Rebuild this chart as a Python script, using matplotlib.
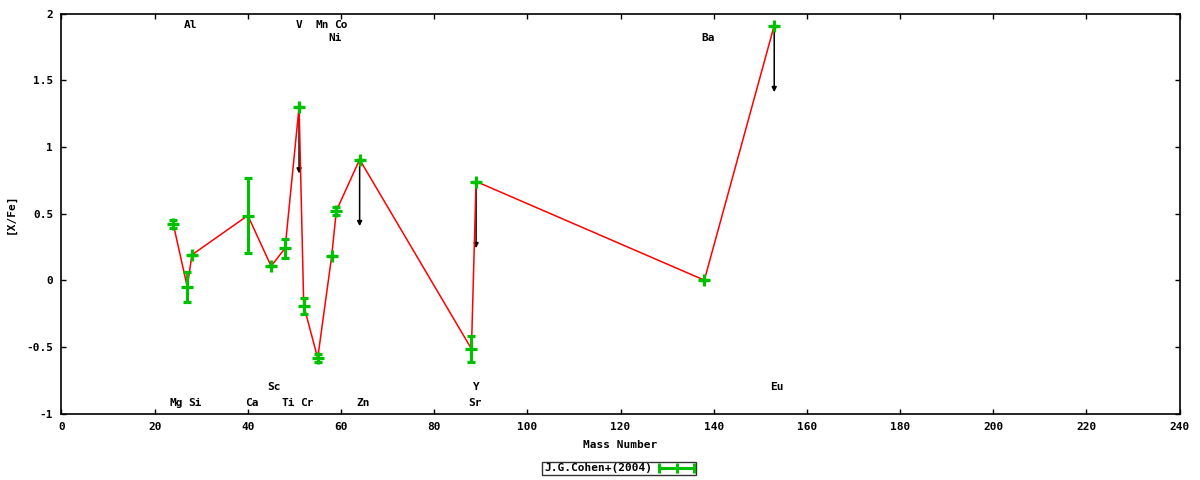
import matplotlib
matplotlib.use("Agg")
import matplotlib.pyplot as plt
from matplotlib.lines import Line2D
from matplotlib.legend_handler import HandlerBase

# ---- donnees ----
elements = ["Mg", "Al", "Si", "Ca", "Sc", "Ti", "V", "Cr", "Mn", "Ni", "Co", "Zn", "Sr", "Y", "Ba", "Eu"]
mass = [24, 27, 28, 40, 45, 48, 51, 52, 55, 58, 59, 64, 88, 89, 138, 153]
xfe = [0.42, -0.05, 0.19, 0.485, 0.105, 0.24, 1.30, -0.19, -0.585, 0.18, 0.52, 0.905, -0.515, 0.74, 0.0, 1.91]
err = [0.03, 0.11, 0.0, 0.28, 0.0, 0.07, 0.0, 0.06, 0.03, 0.0, 0.03, 0.0, 0.095, 0.0, 0.0, 0.0]
upper = ["V", "Zn", "Y", "Eu"]   # limites superieures (fleches)

# etiquettes des elements: (texte, x, y)
labels = [("Al", 27.6, 1.915), ("V", 50.9, 1.915), ("Mn", 55.9, 1.915), ("Co", 59.9, 1.915),
          ("Ni", 58.8, 1.817), ("Ba", 138.8, 1.817),
          ("Sc", 45.6, -0.80), ("Y", 89.0, -0.80), ("Eu", 153.6, -0.80),
          ("Mg", 24.6, -0.92), ("Si", 28.7, -0.92), ("Ca", 40.9, -0.92), ("Ti", 48.6, -0.92),
          ("Cr", 52.7, -0.92), ("Zn", 64.7, -0.92), ("Sr", 88.8, -0.92)]

green = "#00c000"
plt.rcParams["font.family"] = "DejaVu Sans Mono"
plt.rcParams["font.weight"] = "bold"
plt.rcParams["font.size"] = 8
plt.rcParams["axes.unicode_minus"] = False


class HandlerErrBar(HandlerBase):
    # echantillon de legende facon gnuplot : |--+--|
    def create_artists(self, legend, orig_handle, xdescent, ydescent, width, height, fontsize, trans):
        y = height / 2 - ydescent
        x0, x1 = -xdescent, -xdescent + width
        ln = Line2D([x0, x1], [y, y], color=green, lw=2.2, transform=trans)
        caps = Line2D([x0, x1], [y, y], color=green, lw=0, marker="|", ms=7, mew=2.2, transform=trans)
        mid = Line2D([(x0 + x1) / 2], [y], color=green, lw=0, marker="+", ms=7, mew=2.2, transform=trans)
        return [ln, caps, mid]


fig = plt.figure(figsize=(12, 4.8), dpi=100)
ax = fig.add_axes([61.5 / 1200, 1 - 413.5 / 480, 1118 / 1200, 400 / 480])

ax.plot(mass, xfe, "-", color="red", lw=1.1, zorder=2)
eb = ax.errorbar(mass, xfe, yerr=err, fmt="+", color=green, ms=8, mew=2.3,
                 elinewidth=2.2, capsize=2.6, capthick=2.2, zorder=3)

for el, m, v in zip(elements, mass, xfe):
    if el in upper:
        ax.annotate("", xy=(m, v - 0.5), xytext=(m, v),
                    arrowprops=dict(arrowstyle="-|>", color="black", lw=1.1,
                                    mutation_scale=7, shrinkA=0, shrinkB=0), zorder=1)

for txt, lx, ly in labels:
    ax.text(lx, ly, txt, ha="center", va="center", fontsize=8, fontweight="bold")

ax.set_xlim(0, 240)
ax.set_ylim(-1, 2)
ax.set_xticks(range(0, 241, 20))
ax.set_yticks([-1, -0.5, 0, 0.5, 1, 1.5, 2])
ax.set_yticklabels(["-1", "-0.5", "0", "0.5", "1", "1.5", "2"])
ax.tick_params(direction="in", length=3.5, width=1, top=True, right=True, labelsize=8, pad=6)
for s in ax.spines.values():
    s.set_linewidth(1.2)
ax.set_xlabel("Mass Number", fontsize=8, fontweight="bold", labelpad=6)
ax.set_ylabel("[X/Fe]", fontsize=8, fontweight="bold")
ax.yaxis.set_label_coords(-0.0407, 0.5)

leg = fig.legend([eb], ["J.G.Cohen+(2004)"], loc="center", bbox_to_anchor=(0.516, 0.024),
                 handler_map={type(eb): HandlerErrBar()}, frameon=True, fancybox=False,
                 markerfirst=False, borderpad=0.15, handlelength=3.2, handletextpad=0.6,
                 borderaxespad=0,
                 prop={"family": "DejaVu Sans Mono", "weight": "bold", "size": 8})
leg.get_frame().set_edgecolor("black")
leg.get_frame().set_linewidth(1.0)

fig.savefig("out.png", dpi=100)
